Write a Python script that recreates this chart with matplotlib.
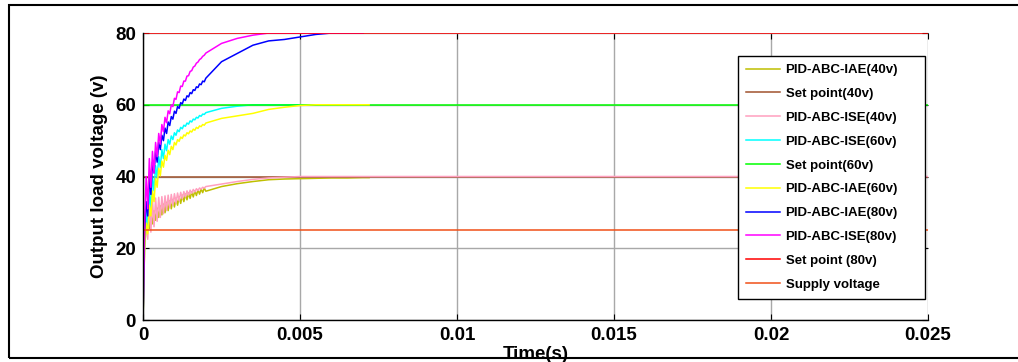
import numpy as np
import matplotlib
matplotlib.use("Agg")
import matplotlib.pyplot as plt
from matplotlib.patches import Rectangle

plt.rcParams['font.family'] = ['Liberation Sans', 'DejaVu Sans']
plt.rcParams['font.weight'] = 'bold'

# sampling times: ripple part (every 0.05 ms up to 2 ms) and the tail
t_ripple = [round(i * 0.00005, 5) for i in range(41)]
t_tail = [0.0025, 0.003, 0.0035, 0.004, 0.0045, 0.005, 0.0055, 0.006, 0.0065, 0.007]
t_end = 0.025

iae40_ripple = [0, 21, 25, 28.5, 25.5, 29.5, 26.8, 30.5, 27.8, 31.2, 28.6, 31.8, 29.3, 32.3,
                29.9, 32.8, 30.5, 33.2, 31.0, 33.6, 31.5, 34.0, 32.0, 34.4, 32.5, 34.8, 33.0,
                35.1, 33.5, 35.4, 33.9, 35.7, 34.3, 36.0, 34.7, 36.3, 35.1, 36.5, 35.5, 36.8, 35.9]
iae40_tail = [37.2, 38.0, 38.6, 39.1, 39.3, 39.4, 39.5, 39.6, 39.6, 39.7]

ise40_ripple = [0, 20, 32, 22.5, 33, 24.5, 33.6, 26, 34, 27.5, 34.2, 28.6, 34.4, 29.6, 34.6,
                30.5, 34.8, 31.3, 35.0, 32.0, 35.2, 32.6, 35.4, 33.2, 35.6, 33.8, 35.8, 34.3,
                36.0, 34.8, 36.2, 35.3, 36.4, 35.7, 36.6, 36.1, 36.8, 36.5, 37.0, 36.8, 37.2]
ise40_tail = [37.9, 38.6, 39.2, 39.6, 39.8, 40.0, 40.0, 40.0, 40.0, 40.0]

ise60_ripple = [0, 22, 30, 26, 36, 31, 40, 36, 43, 39.5, 45.5, 42.5, 47.5, 45, 49, 47.2, 50.3,
                49, 51.3, 50.3, 52.2, 51.5, 53.0, 52.5, 53.7, 53.3, 54.3, 54.0, 54.9, 54.6, 55.5,
                55.2, 56.0, 55.8, 56.5, 56.3, 57.0, 56.8, 57.4, 57.3, 57.8]
ise60_tail = [59.0, 59.6, 60.0, 60.0, 60.0, 60.0, 60.0, 60.0, 60.0, 60.0]

iae60_ripple = [0, 20, 27, 24, 32, 29, 36, 33, 39.5, 37, 42.3, 40.2, 44.3, 42.6, 45.9, 44.5,
                47.3, 46.1, 48.4, 47.5, 49.5, 48.8, 50.3, 49.8, 51.0, 50.6, 51.6, 51.3, 52.2,
                51.9, 52.7, 52.4, 53.2, 52.9, 53.7, 53.4, 54.1, 53.9, 54.5, 54.3, 54.9]
iae60_tail = [56.2, 56.9, 57.6, 58.7, 59.3, 59.8, 60.0, 60.0, 60.0, 60.0]

iae80_ripple = [0, 25, 33, 29, 40, 35, 44, 41, 47, 44, 49.5, 47.5, 51.5, 50, 53.5, 52, 55.2,
                54.2, 56.7, 56, 58.2, 57.6, 59.5, 59, 60.6, 60.2, 61.6, 61.2, 62.5, 62.2, 63.4,
                63.1, 64.2, 64.0, 65.0, 64.8, 65.8, 65.6, 66.6, 66.4, 67.4]
iae80_tail = [72.0, 74.3, 76.6, 77.8, 78.2, 78.9, 79.6, 80.0, 80.0, 80.0]

ise80_ripple = [0, 27, 40, 31, 45, 37, 47, 41, 49.5, 45.5, 52, 49, 54.5, 52.5, 56.5, 55, 58.3,
                57.5, 60, 59.5, 61.8, 61.5, 63.6, 63.4, 65.2, 65.1, 66.6, 66.6, 68, 68.1, 69.3,
                69.5, 70.5, 70.8, 71.6, 71.9, 72.6, 72.9, 73.5, 73.8, 74.4]
ise80_tail = [77.1, 78.5, 79.4, 80.0, 80.0, 80.0, 80.0, 80.0, 80.0, 80.0]

set40, set60, set80, supply = 40, 60, 80, 25

t_sim = t_ripple + t_tail

fig = plt.figure(figsize=(10.18, 3.62), dpi=100)
ax = fig.add_axes([0.1405, 0.116, 0.7711, 0.7928])

lw = 1.1
ax.plot(t_sim + [0.0072], iae40_ripple + iae40_tail + [39.7], color='#bfbf00', lw=lw, label='PID-ABC-IAE(40v)')
ax.plot([0, t_end], [set40, set40], color='#a0522d', lw=lw, label='Set point(40v)')
ax.plot(t_sim + [t_end], ise40_ripple + ise40_tail + [40.0], color='#ff9fbf', lw=lw, label='PID-ABC-ISE(40v)')
ax.plot(t_sim, ise60_ripple + ise60_tail, color='#00ffff', lw=lw, label='PID-ABC-ISE(60v)')
ax.plot([0, t_end], [set60, set60], color='#00ff00', lw=lw, label='Set point(60v)')
ax.plot(t_sim + [0.0072], iae60_ripple + iae60_tail + [60.0], color='#ffff00', lw=lw, label='PID-ABC-IAE(60v)')
ax.plot(t_sim, iae80_ripple + iae80_tail, color='#0000ff', lw=lw, label='PID-ABC-IAE(80v)')
ax.plot(t_sim, ise80_ripple + ise80_tail, color='#ff00ff', lw=lw, label='PID-ABC-ISE(80v)')
ax.plot([0, t_end], [set80, set80], color='#ff0000', lw=lw, label='Set point (80v)')
ax.plot([0, t_end], [supply, supply], color='#f05018', lw=lw, label='Supply voltage')

ax.set_xlim(0, 0.025)
ax.set_ylim(0, 80)
ax.set_xticks([0, 0.005, 0.01, 0.015, 0.02, 0.025])
ax.set_xticklabels(['0', '0.005', '0.01', '0.015', '0.02', '0.025'])
ax.set_yticks([0, 20, 40, 60, 80])
ax.grid(True, color='#a8a8a8', lw=1.0)
ax.set_axisbelow(True)
for s in ['top', 'right']:
    ax.spines[s].set_visible(False)
for s in ['left', 'bottom']:
    ax.spines[s].set_linewidth(1.0)
ax.tick_params(direction='in', length=4, labelsize=13.5, pad=5, right=True, top=True)
for lab in ax.get_xticklabels() + ax.get_yticklabels():
    lab.set_fontweight('bold')

ax.set_xlabel('Time(s)', fontsize=13.5, fontweight='bold', labelpad=1.5)
ax.set_ylabel('Output load voltage (v)', fontsize=13.5, fontweight='bold', labelpad=5)

leg = ax.legend(loc='upper left', bbox_to_anchor=(0.758, 0.0, 0.238, 0.92), mode='expand',
                borderaxespad=0, fancybox=False, framealpha=1, edgecolor='black',
                labelspacing=0.88, handlelength=2.6, handletextpad=0.4, borderpad=0.6,
                prop={'weight': 'bold', 'size': 9.5})
leg.get_frame().set_linewidth(1.0)

fig.patches.append(Rectangle((9 / 1018, 4 / 362), 1.2, 353 / 362, transform=fig.transFigure,
                             fill=False, edgecolor='black', lw=1.5, zorder=5))

fig.savefig('out.png', dpi=100)
